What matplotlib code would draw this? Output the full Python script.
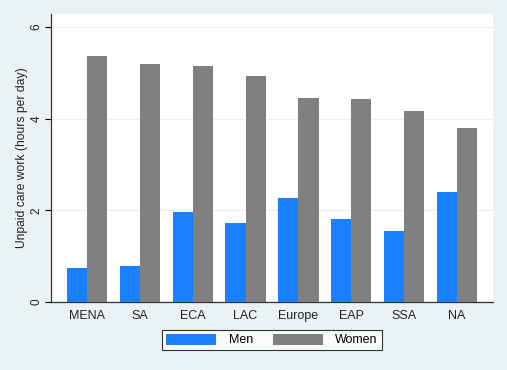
import numpy as np
import matplotlib
matplotlib.use("Agg")
import matplotlib.pyplot as plt

regions = ["MENA", "SA", "ECA", "LAC", "Europe", "EAP", "SSA", "NA"]
men = [0.74, 0.79, 1.97, 1.72, 2.27, 1.81, 1.55, 2.40]
women = [5.37, 5.20, 5.15, 4.93, 4.45, 4.43, 4.17, 3.80]

plt.rcParams['font.family'] = ['Liberation Sans', 'DejaVu Sans']

bg = '#eaf2f3'
fig = plt.figure(figsize=(5.07, 3.70), dpi=100, facecolor=bg)
ax = fig.add_axes([0.1006, 0.1838, 0.8718, 0.7782])
ax.set_facecolor('white')

x = np.arange(len(regions))
w = 0.38
ax.bar(x - w / 2, men, w, color='#1a80ff', label='Men', zorder=3)
ax.bar(x + w / 2, women, w, color='#808080', label='Women', zorder=3)

ax.set_xlim(-0.68, 7.68)
ax.set_ylim(0, 6.28)
ax.set_yticks([0, 2, 4, 6])
ax.set_xticks(x)
ax.set_xticklabels(regions, fontsize=9, color='#222222')
ax.tick_params(axis='y', labelsize=8.5, labelrotation=90, length=4, width=0.8, pad=2,
               labelcolor='#222222')
ax.tick_params(axis='x', length=0, pad=6)
for lab in ax.get_yticklabels():
    lab.set_va('center')
ax.grid(axis='y', color='#e8eded', linewidth=0.8, zorder=0)
for s in ['top', 'right']:
    ax.spines[s].set_visible(False)
for s in ['left', 'bottom']:
    ax.spines[s].set_color('#333333')
    ax.spines[s].set_linewidth(0.9)
ax.set_ylabel('Unpaid care work (hours per day)', fontsize=8.7, labelpad=2, color='#222222')

leg = fig.legend(loc='center', bbox_to_anchor=(272 / 507, 1 - 340 / 370), ncol=2,
                 fontsize=9, frameon=True, fancybox=False, edgecolor='black',
                 handlelength=4.0, handleheight=1.0, columnspacing=1.6,
                 borderpad=0.3, handletextpad=1.0)
leg.get_frame().set_linewidth(0.8)

fig.savefig('out.png', dpi=100, facecolor=bg)
